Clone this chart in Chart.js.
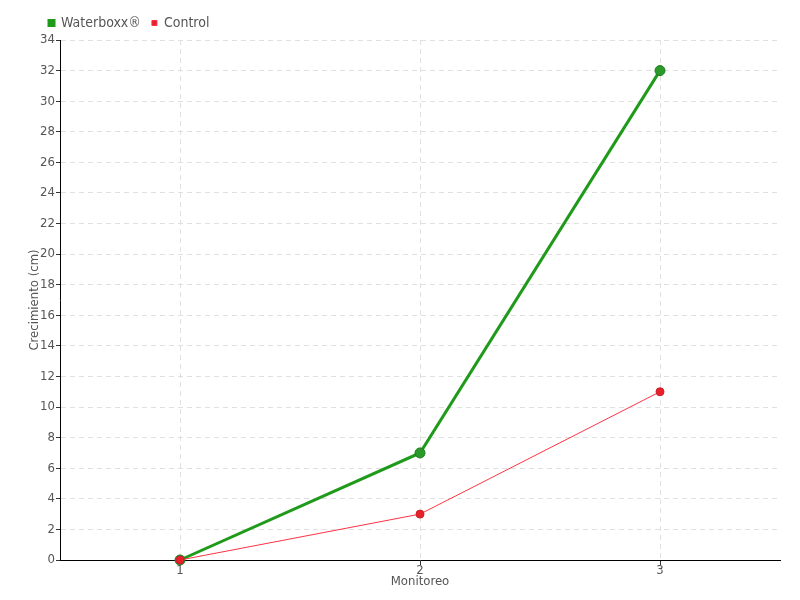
<!DOCTYPE html>
<html>
<head>
<meta charset="utf-8">
<script src="https://cdn.jsdelivr.net/npm/chart.js@4.4.1/dist/chart.umd.min.js"></script>
<style>
  html, body { margin: 0; padding: 0; background: #fff; }
  #wrap { width: 800px; height: 600px; }
</style>
</head>
<body>
<div id="wrap"><canvas id="chart" width="800" height="600"></canvas></div>
<script>
// values
var monitoreo = ["1", "2", "3"];
var waterboxx = [0, 7, 32];
var control = [0, 3, 11];

var fontFamily = "'DejaVu Sans Condensed', 'Liberation Sans Narrow', sans-serif";
var textColor = "#555";

// nudge the legend to the right, like the original
var legendShift = {
  id: 'legendShift',
  afterLayout: function (chart) {
    chart.legend.left += 38;
    chart.legend.right += 38;
  }
};

var ctx = document.getElementById("chart");
var chart = new Chart(ctx, {
  type: 'line',
  data: {
    labels: monitoreo,
    datasets: [
      {
        label: "Control",
        data: control,
        borderColor: "#ff3344",
        backgroundColor: "#e8202c",
        borderWidth: 1,
        pointRadius: 4,
        pointBackgroundColor: "#e8202c",
        pointBorderColor: "#d01c26",
        pointBorderWidth: 1,
        lineTension: 0,
        clip: false,
        fill: false
      },
      {
        label: "Waterboxx®",
        data: waterboxx,
        borderColor: "#1f9a1a",
        backgroundColor: "#1f9a1a",
        borderWidth: 3,
        pointRadius: 5,
        pointBackgroundColor: "#2a9a2a",
        pointBorderColor: "#1c7a1c",
        pointBorderWidth: 1,
        lineTension: 0,
        clip: false,
        fill: false
      }
    ]
  },
  plugins: [legendShift],
  options: {
    responsive: false,
    animation: false,
    layout: { padding: { top: 5, right: 20, bottom: 0, left: 0 } },
    plugins: {
      tooltip: { enabled: false },
      legend: {
        position: 'top',
        align: 'start',
        reverse: true,
        labels: {
          boxWidth: 5,
          boxHeight: 5,
          padding: 11,
          color: textColor,
          font: { family: fontFamily, size: 14 }
        }
      }
    },
    scales: {
      x: {
        type: 'category',
        offset: true,
        title: {
          display: true,
          text: "Monitoreo",
          color: textColor,
          padding: { top: 0, bottom: 11 },
          font: { family: fontFamily, size: 13 }
        },
        grid: {
          color: "#e0e0e0",
          offset: false,
          tickLength: 5,
          tickColor: "#333",
          tickBorderDash: []
        },
        border: { color: "#000", width: 1, dash: [5, 4] },
        ticks: {
          color: textColor,
          padding: -2,
          font: { family: fontFamily, size: 13 }
        },
        afterFit: function (scale) { scale.height = 40; }
      },
      y: {
        min: 0,
        max: 34,
        title: {
          display: true,
          text: "Crecimiento (cm)",
          color: textColor,
          padding: { top: 27, bottom: 0 },
          font: { family: fontFamily, size: 13 }
        },
        grid: {
          color: "#e0e0e0",
          tickLength: 4,
          tickColor: "#333",
          tickBorderDash: []
        },
        border: { color: "#000", width: 1, dash: [5, 4] },
        ticks: {
          stepSize: 2,
          color: textColor,
          padding: 1,
          font: { family: fontFamily, size: 13 }
        },
        afterFit: function (scale) { scale.width = 60; }
      }
    }
  }
});
</script>
</body>
</html>
